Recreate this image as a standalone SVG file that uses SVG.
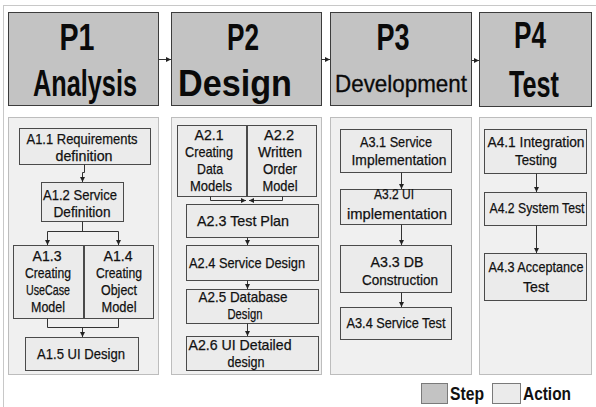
<svg xmlns="http://www.w3.org/2000/svg" width="596" height="407" viewBox="0 0 596 407">
<defs>
<marker id="ah" viewBox="0 0 6 6" refX="6" refY="3" markerWidth="5" markerHeight="5" markerUnits="userSpaceOnUse" orient="auto"><path d="M0,0 L6,3 L0,6 z" fill="#222"/></marker>
<style>
.frame{fill:#ffffff;stroke:#c8c8c8;stroke-width:1}
.step{fill:#c3c3c3;stroke:#3c3c3c;stroke-width:1}
.panel{fill:#f0f0f0;stroke:#bdbdbd;stroke-width:1}
.act{fill:#ebebeb;stroke:#4a4a4a;stroke-width:1}
.lgA{fill:#ebebeb;stroke:#7a7a7a;stroke-width:1}
.lgS{fill:#c3c3c3;stroke:#7a7a7a;stroke-width:1}
.h{font-family:"Liberation Sans",Arial,sans-serif;font-weight:bold;font-size:37px;fill:#0a0a0a;text-anchor:middle}
.hr{font-family:"Liberation Sans",Arial,sans-serif;font-size:24px;fill:#0a0a0a;stroke:#0a0a0a;stroke-width:0.3;text-anchor:middle}
.t{font-family:"Liberation Sans",Arial,sans-serif;font-size:15px;fill:#111;stroke:#111;stroke-width:0.25;text-anchor:middle}
.lg{font-family:"Liberation Sans",Arial,sans-serif;font-weight:bold;font-size:18px;fill:#111}
.c{fill:none;stroke:#333;stroke-width:1}
</style>
</defs>
<rect class="frame" x="3.5" y="5.5" width="600" height="410"/>

<g id="P1"><rect class="step" x="8.5" y="12.5" width="150" height="93"/>
<text class="h" x="77" y="50" textLength="35" lengthAdjust="spacingAndGlyphs">P1</text>
<text class="h" x="85" y="96" font-size="38" textLength="104" lengthAdjust="spacingAndGlyphs">Analysis</text></g>
<g id="P2"><rect class="step" x="171.5" y="12.5" width="150" height="93"/>
<text class="h" x="243" y="50" textLength="32" lengthAdjust="spacingAndGlyphs">P2</text>
<text class="h" x="235" y="96" font-size="38" textLength="114" lengthAdjust="spacingAndGlyphs">Design</text></g>
<g id="P3"><rect class="step" x="330.5" y="12.5" width="141" height="93"/>
<text class="h" x="393" y="50" textLength="33" lengthAdjust="spacingAndGlyphs">P3</text>
<text class="hr" x="401" y="92" textLength="132" lengthAdjust="spacingAndGlyphs">Development</text></g>
<g id="P4"><rect class="step" x="479.5" y="12.5" width="112" height="94"/>
<text class="h" x="530" y="48" textLength="32" lengthAdjust="spacingAndGlyphs">P4</text>
<text class="h" x="534" y="97" font-size="38" textLength="50" lengthAdjust="spacingAndGlyphs">Test</text></g>

<g id="panel1"><rect class="panel" x="8.5" y="117.5" width="150" height="257"/></g>
<g id="panel2"><rect class="panel" x="171.5" y="117.5" width="150" height="257"/></g>
<g id="panel3"><rect class="panel" x="330.5" y="117.5" width="141" height="257"/></g>
<g id="panel4"><rect class="panel" x="479.5" y="117.5" width="112" height="257"/></g>

<g id="A1.1"><rect class="act" x="19.5" y="128.5" width="131" height="36"/>
<text class="t" x="82" y="144" textLength="111" lengthAdjust="spacingAndGlyphs">A1.1 Requirements</text>
<text class="t" x="84" y="161" textLength="57" lengthAdjust="spacingAndGlyphs">definition</text></g>
<g id="A1.2"><rect class="act" x="41.5" y="182.5" width="82" height="39"/>
<text class="t" x="80" y="200" textLength="74" lengthAdjust="spacingAndGlyphs">A1.2 Service</text>
<text class="t" x="82" y="217" textLength="57" lengthAdjust="spacingAndGlyphs">Definition</text></g>
<g id="A1.3"><rect class="act" x="13.5" y="245.5" width="70" height="73"/>
<text class="t" x="47" y="261" textLength="29" lengthAdjust="spacingAndGlyphs">A1.3</text>
<text class="t" x="48" y="278" textLength="46" lengthAdjust="spacingAndGlyphs">Creating</text>
<text class="t" x="48" y="295" textLength="44" lengthAdjust="spacingAndGlyphs">UseCase</text>
<text class="t" x="48" y="312" textLength="34" lengthAdjust="spacingAndGlyphs">Model</text></g>
<g id="A1.4"><rect class="act" x="84.5" y="245.5" width="69" height="73"/>
<text class="t" x="118" y="261" textLength="29" lengthAdjust="spacingAndGlyphs">A1.4</text>
<text class="t" x="119" y="278" textLength="46" lengthAdjust="spacingAndGlyphs">Creating</text>
<text class="t" x="119" y="295" textLength="36" lengthAdjust="spacingAndGlyphs">Object</text>
<text class="t" x="119" y="312" textLength="35" lengthAdjust="spacingAndGlyphs">Model</text></g>
<g id="A1.5"><rect class="act" x="25.5" y="337.5" width="113" height="33"/>
<text class="t" x="81" y="359" textLength="88" lengthAdjust="spacingAndGlyphs">A1.5 UI Design</text></g>

<g id="A2.1"><rect class="act" x="177.5" y="125.5" width="69" height="71"/>
<text class="t" x="209" y="140" textLength="29" lengthAdjust="spacingAndGlyphs">A2.1</text>
<text class="t" x="209" y="157" textLength="48" lengthAdjust="spacingAndGlyphs">Creating</text>
<text class="t" x="210" y="174" textLength="26" lengthAdjust="spacingAndGlyphs">Data</text>
<text class="t" x="211" y="191" textLength="42" lengthAdjust="spacingAndGlyphs">Models</text></g>
<g id="A2.2"><rect class="act" x="247.5" y="125.5" width="69" height="71"/>
<text class="t" x="279" y="140" textLength="30" lengthAdjust="spacingAndGlyphs">A2.2</text>
<text class="t" x="280" y="157" textLength="44" lengthAdjust="spacingAndGlyphs">Written</text>
<text class="t" x="280" y="174" textLength="34" lengthAdjust="spacingAndGlyphs">Order</text>
<text class="t" x="280" y="191" textLength="35" lengthAdjust="spacingAndGlyphs">Model</text></g>
<g id="A2.3"><rect class="act" x="186.5" y="204.5" width="132" height="33"/>
<text class="t" x="243" y="226" textLength="92" lengthAdjust="spacingAndGlyphs">A2.3 Test Plan</text></g>
<g id="A2.4"><rect class="act" x="186.5" y="245.5" width="132" height="35"/>
<text class="t" x="247" y="268" textLength="116" lengthAdjust="spacingAndGlyphs">A2.4 Service Design</text></g>
<g id="A2.5"><rect class="act" x="186.5" y="289.5" width="132" height="34"/>
<text class="t" x="243" y="302" textLength="89" lengthAdjust="spacingAndGlyphs">A2.5 Database</text>
<text class="t" x="245" y="319" textLength="35" lengthAdjust="spacingAndGlyphs">Design</text></g>
<g id="A2.6"><rect class="act" x="186.5" y="336.5" width="132" height="34"/>
<text class="t" x="240" y="350" textLength="103" lengthAdjust="spacingAndGlyphs">A2.6 UI Detailed</text>
<text class="t" x="246" y="367" textLength="37" lengthAdjust="spacingAndGlyphs">design</text></g>

<g id="A3.1"><rect class="act" x="340.5" y="129.5" width="111" height="43"/>
<text class="t" x="396" y="147" textLength="72" lengthAdjust="spacingAndGlyphs">A3.1 Service</text>
<text class="t" x="399" y="165" textLength="95" lengthAdjust="spacingAndGlyphs">Implementation</text></g>
<g id="A3.2"><rect class="act" x="340.5" y="189.5" width="111" height="35"/>
<text class="t" x="394" y="199" textLength="40" lengthAdjust="spacingAndGlyphs">A3.2 UI</text>
<text class="t" x="397" y="219" textLength="100" lengthAdjust="spacingAndGlyphs">implementation</text></g>
<g id="A3.3"><rect class="act" x="340.5" y="245.5" width="111" height="47"/>
<text class="t" x="397" y="267" textLength="53" lengthAdjust="spacingAndGlyphs">A3.3 DB</text>
<text class="t" x="400" y="285" textLength="76" lengthAdjust="spacingAndGlyphs">Construction</text></g>
<g id="A3.4"><rect class="act" x="340.5" y="307.5" width="111" height="32"/>
<text class="t" x="396" y="328" textLength="99" lengthAdjust="spacingAndGlyphs">A3.4 Service Test</text></g>

<g id="A4.1"><rect class="act" x="484.5" y="129.5" width="102" height="44"/>
<text class="t" x="536" y="147" textLength="97" lengthAdjust="spacingAndGlyphs">A4.1 Integration</text>
<text class="t" x="536" y="165" textLength="42" lengthAdjust="spacingAndGlyphs">Testing</text></g>
<g id="A4.2"><rect class="act" x="484.5" y="192.5" width="102" height="33"/>
<text class="t" x="537" y="213" textLength="95" lengthAdjust="spacingAndGlyphs">A4.2 System Test</text></g>
<g id="A4.3"><rect class="act" x="484.5" y="253.5" width="102" height="47"/>
<text class="t" x="536" y="272" textLength="95" lengthAdjust="spacingAndGlyphs">A4.3 Acceptance</text>
<text class="t" x="536" y="292" textLength="26" lengthAdjust="spacingAndGlyphs">Test</text></g>

<g id="connectors">
<path class="c" d="M158.5,59.5 H171" marker-end="url(#ah)"/>
<path class="c" d="M321.5,59.5 H330" marker-end="url(#ah)"/>
<path class="c" d="M471.5,60.5 H479" marker-end="url(#ah)"/>
<path class="c" d="M84.5,164.5 V172.5 H82.5 V182" marker-end="url(#ah)"/>
<path class="c" d="M82.5,221.5 V231.5"/>
<path class="c" d="M47.5,231.5 H118.5"/>
<path class="c" d="M47.5,231.5 V245" marker-end="url(#ah)"/>
<path class="c" d="M118.5,231.5 V245" marker-end="url(#ah)"/>
<path class="c" d="M47.5,318.5 V327.5 H118.5 V318.5"/>
<path class="c" d="M82.5,327.5 V337" marker-end="url(#ah)"/>
<path class="c" d="M210.5,196.5 V200.5 H246" marker-end="url(#ah)"/>
<path class="c" d="M282.5,196.5 V200.5 H249" marker-end="url(#ah)"/>
<path class="c" d="M247.5,237.5 V245" marker-end="url(#ah)"/>
<path class="c" d="M247.5,280.5 V289" marker-end="url(#ah)"/>
<path class="c" d="M247.5,323.5 V336" marker-end="url(#ah)"/>
<path class="c" d="M401.5,172.5 V189" marker-end="url(#ah)"/>
<path class="c" d="M401.5,224.5 V245" marker-end="url(#ah)"/>
<path class="c" d="M401.5,292.5 V307" marker-end="url(#ah)"/>
<path class="c" d="M536.5,173.5 V192" marker-end="url(#ah)"/>
<path class="c" d="M536.5,225.5 V253" marker-end="url(#ah)"/>
</g>

<g id="legend">
<rect class="lgS" x="421.5" y="383.5" width="26" height="20"/>
<text class="lg" x="450" y="400" textLength="34" lengthAdjust="spacingAndGlyphs">Step</text>
<rect class="lgA" x="492.5" y="383.5" width="28" height="20"/>
<text class="lg" x="523" y="400" textLength="48" lengthAdjust="spacingAndGlyphs">Action</text>
</g>
</svg>
